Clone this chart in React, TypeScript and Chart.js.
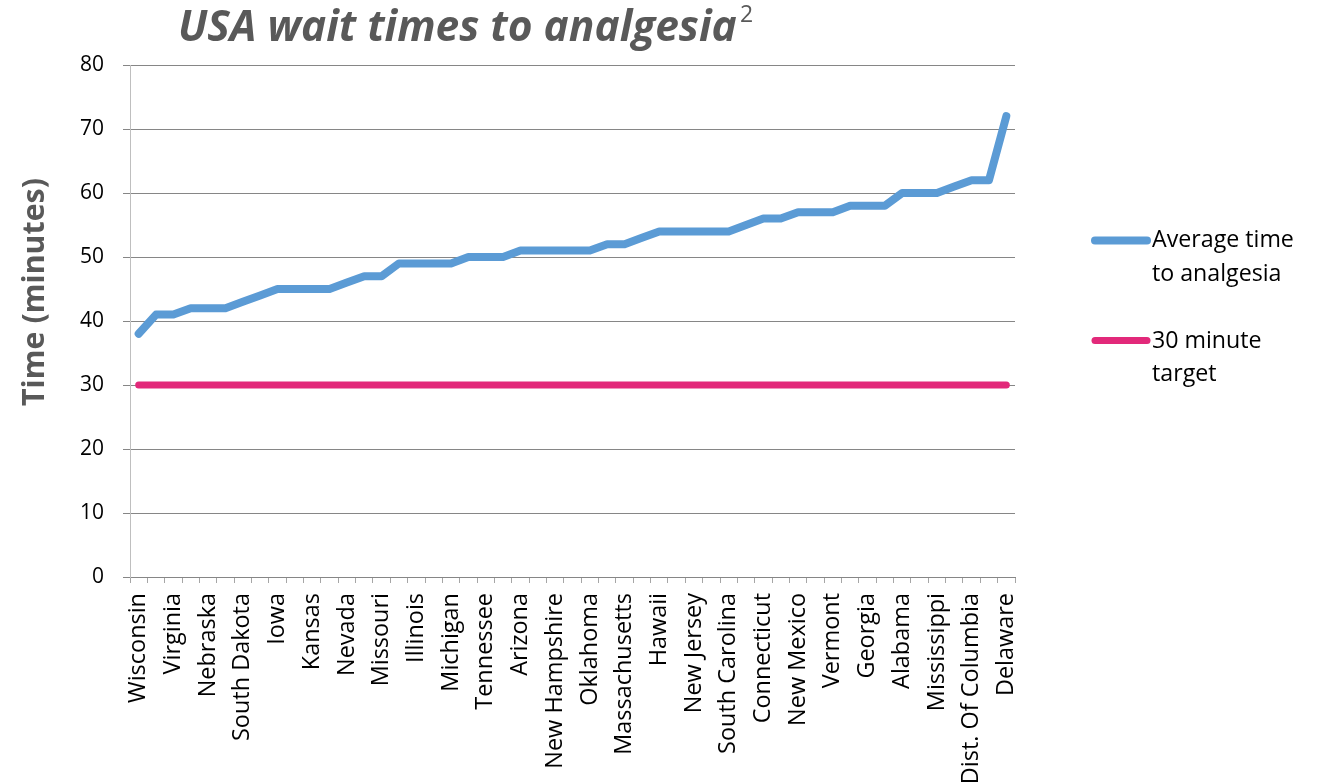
import React, { useEffect, useRef } from 'react';
import { Chart, registerables } from 'chart.js';

Chart.register(...registerables);

const chartTitle = 'USA wait times to analgesia';
const titleSup = '2';
const yAxisTitle = 'Time (minutes)';

const states = [
  'Wisconsin', 'Alaska', 'Virginia', 'Arkansas', 'Nebraska', 'California',
  'South Dakota', 'Colorado', 'Iowa', 'Florida', 'Kansas', 'Idaho',
  'Nevada', 'Indiana', 'Missouri', 'Kentucky', 'Illinois', 'Louisiana',
  'Michigan', 'Maine', 'Tennessee', 'Maryland', 'Arizona', 'Minnesota',
  'New Hampshire', 'Montana', 'Oklahoma', 'New York', 'Massachusetts', 'North Carolina',
  'Hawaii', 'North Dakota', 'New Jersey', 'Ohio', 'South Carolina', 'Oregon',
  'Connecticut', 'Pennsylvania', 'New Mexico', 'Rhode Island', 'Vermont', 'Texas',
  'Georgia', 'Utah', 'Alabama', 'Washington', 'Mississippi', 'West Virginia',
  'Dist. Of Columbia', 'Wyoming', 'Delaware',
];

const averageTime = [
  38, 41, 41, 42, 42, 42, 43, 44, 45, 45,
  45, 45, 46, 47, 47, 49, 49, 49, 49, 50,
  50, 50, 51, 51, 51, 51, 51, 52, 52, 53,
  54, 54, 54, 54, 54, 55, 56, 56, 57, 57,
  57, 58, 58, 58, 60, 60, 60, 61, 62, 62,
  72,
];

const targetTime = [
  30, 30, 30, 30, 30, 30, 30, 30, 30, 30,
  30, 30, 30, 30, 30, 30, 30, 30, 30, 30,
  30, 30, 30, 30, 30, 30, 30, 30, 30, 30,
  30, 30, 30, 30, 30, 30, 30, 30, 30, 30,
  30, 30, 30, 30, 30, 30, 30, 30, 30, 30,
  30,
];

const legendLabels = [
  ['Average time', 'to analgesia'],
  ['30 minute', 'target'],
];

const yMin = 0;
const yMax = 80;
const yStep = 10;

const FAMILY = '"Open Sans", "Noto Sans", sans-serif';
const BLUE = '#5B9BD5';
const PINK = '#E2297A';
const GRAY_TEXT = '#595959';

function fitSize(ctx: CanvasRenderingContext2D, text: string, style: string, target: number): number {
  ctx.font = `${style} 100px ${FAMILY}`;
  const w = ctx.measureText(text).width;
  return (100 * target) / w;
}

export default function App() {
  const ref = useRef<HTMLCanvasElement | null>(null);

  useEffect(() => {
    const canvas = ref.current;
    if (!canvas) return;
    const mctx = document.createElement('canvas').getContext('2d') as CanvasRenderingContext2D;
    const xLabelSize = fitSize(mctx, 'Wisconsin', 'normal 400', 110);
    const yTickSize = 21;

    const decor = {
      id: 'decor',
      afterDraw(chart: any) {
        const ctx: CanvasRenderingContext2D = chart.ctx;
        ctx.save();
        // Title
        const tSize = fitSize(ctx, chartTitle, 'italic 700', 559);
        ctx.font = `italic 700 ${tSize}px ${FAMILY}`;
        ctx.fillStyle = GRAY_TEXT;
        ctx.textAlign = 'left';
        ctx.textBaseline = 'alphabetic';
        ctx.fillText(chartTitle, 178, 41);
        ctx.font = `normal 400 23px ${FAMILY}`;
        ctx.fillText(titleSup, 740, 22);

        // Y axis title
        const ySize = fitSize(ctx, yAxisTitle, 'normal 700', 228);
        ctx.save();
        ctx.translate(44, 292);
        ctx.rotate(-Math.PI / 2);
        ctx.font = `normal 700 ${ySize}px ${FAMILY}`;
        ctx.textAlign = 'center';
        ctx.textBaseline = 'alphabetic';
        ctx.fillStyle = GRAY_TEXT;
        ctx.fillText(yAxisTitle, 0, 0);
        ctx.restore();

        // Legend
        const lSize = fitSize(ctx, legendLabels[0][0], 'normal 400', 142);
        const entries = [
          { color: BLUE, width: 8, lineY: 240.5, base: [247, 280.5] },
          { color: PINK, width: 7, lineY: 340.5, base: [348, 380.5] },
        ];
        entries.forEach((e, i) => {
          ctx.beginPath();
          ctx.strokeStyle = e.color;
          ctx.lineWidth = e.width;
          ctx.lineCap = 'round';
          ctx.moveTo(1095, e.lineY);
          ctx.lineTo(1147, e.lineY);
          ctx.stroke();
          ctx.font = `normal 400 ${lSize}px ${FAMILY}`;
          ctx.fillStyle = '#000000';
          ctx.textAlign = 'left';
          legendLabels[i].forEach((t, j) => ctx.fillText(t, 1152, e.base[j]));
        });
        ctx.restore();
      },
    };

    const chart = new Chart(canvas, {
      type: 'line',
      data: {
        labels: states,
        datasets: [
          {
            label: 'Average time to analgesia',
            data: averageTime,
            borderColor: BLUE,
            backgroundColor: BLUE,
            borderWidth: 8,
            pointRadius: 0,
            tension: 0,
            borderCapStyle: 'round',
            borderJoinStyle: 'round',
          },
          {
            label: '30 minute target',
            data: targetTime,
            borderColor: PINK,
            backgroundColor: PINK,
            borderWidth: 7,
            pointRadius: 0,
            tension: 0,
            borderCapStyle: 'round',
            borderJoinStyle: 'round',
          },
        ],
      },
      options: {
        responsive: false,
        animation: false,
        layout: { padding: { left: 0, top: 65, right: 306, bottom: 0 } },
        plugins: {
          legend: { display: false },
          title: { display: false },
          tooltip: { enabled: false },
        },
        scales: {
          x: {
            type: 'category',
            offset: true,
            afterFit: (s: any) => { s.height = 205; },
            grid: {
              offset: true,
              drawOnChartArea: false,
              drawTicks: true,
              tickLength: 6,
              color: '#A6A6A6',
            },
            border: { display: true, color: '#868686', width: 1 },
            ticks: {
              autoSkip: false,
              maxRotation: 90,
              minRotation: 90,
              padding: 10,
              color: '#000000',
              font: { family: FAMILY, size: xLabelSize },
              callback: (_v: any, i: number) => (i % 2 === 0 ? states[i] : ''),
            },
          },
          y: {
            min: yMin,
            max: yMax,
            afterFit: (s: any) => { s.width = 130; },
            grid: {
              color: '#868686',
              drawTicks: true,
              tickLength: 7,
            },
            border: { display: true, color: '#BFBFBF', width: 1 },
            ticks: {
              stepSize: yStep,
              padding: 19,
              color: '#000000',
              font: { family: FAMILY, size: yTickSize },
            },
          },
        },
      },
      plugins: [decor],
    } as any);

    return () => chart.destroy();
  }, []);

  return (
    <div style={{ position: 'absolute', left: 0, top: 0, width: 1321, height: 782, background: '#ffffff' }}>
      <canvas ref={ref} width={1321} height={782} style={{ display: 'block' }} />
    </div>
  );
}
